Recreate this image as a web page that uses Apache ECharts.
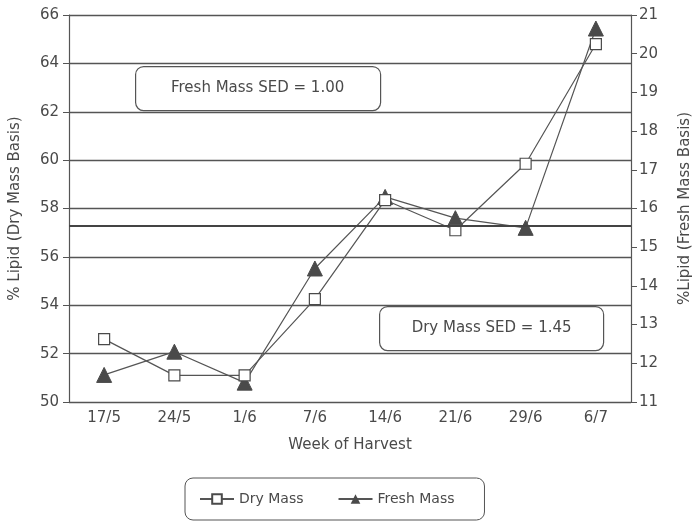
<!DOCTYPE html>
<html>
<head>
<meta charset="utf-8">
<script src="https://cdn.jsdelivr.net/npm/echarts@6/dist/echarts.min.js"></script>
<style>
  html, body { margin: 0; padding: 0; background: #fff; }
  #chart { width: 697px; height: 522px; }
</style>
</head>
<body>
<div id="chart"></div>
<script>
// Harvest weeks and lipid content
const weeks = ['17/5', '24/5', '1/6', '7/6', '14/6', '21/6', '29/6', '6/7'];
// % lipid, dry mass basis (left axis)
const dryMass = [52.6, 51.1, 51.1, 54.25, 58.35, 57.1, 59.85, 64.8];
// % lipid, fresh mass basis (right axis)
const freshMass = [11.7, 12.3, 11.5, 14.45, 16.3, 15.75, 15.5, 20.65];
// Reference level drawn across the plot (dry mass basis)
const refLevel = [57.3];
const sedLabels = ['Fresh Mass SED = 1.00', 'Dry Mass SED = 1.45'];

const ink = '#4a4a4a';
const font = 'DejaVu Sans';

const chart = echarts.init(document.getElementById('chart'), null, { renderer: 'canvas' });

const axisText = { color: ink, fontFamily: font, fontSize: 15 };

chart.setOption({
  backgroundColor: '#fff',
  animation: false,
  textStyle: { fontFamily: font, color: ink },
  grid: { left: 69, right: 66, top: 15, bottom: 120, containLabel: false, outerBoundsMode: 'none' },
  legend: {
    data: ['Dry Mass', 'Fresh Mass'],
    left: 185, top: 478,
    padding: [14, 30, 14, 14],
    itemGap: 34,
    itemWidth: 34, itemHeight: 12,
    borderColor: '#555', borderWidth: 1, borderRadius: 8,
    textStyle: { color: ink, fontFamily: font, fontSize: 14 }
  },
  xAxis: {
    type: 'category',
    data: weeks,
    boundaryGap: true,
    name: 'Week of Harvest',
    nameLocation: 'middle',
    nameGap: 36,
    nameTextStyle: { color: ink, fontFamily: font, fontSize: 15 },
    axisLine: { lineStyle: { color: '#555', width: 1.2 } },
    axisTick: { alignWithLabel: true, length: 5, lineStyle: { color: '#555' } },
    axisLabel: Object.assign({ margin: 9 }, axisText),
    splitLine: { show: false }
  },
  yAxis: [
    {
      type: 'value',
      min: 50, max: 66, interval: 2,
      name: '% Lipid (Dry Mass Basis)',
      nameLocation: 'middle',
      nameGap: 46,
      nameRotate: 90,
      nameTextStyle: { color: ink, fontFamily: font, fontSize: 15 },
      axisLine: { show: true, lineStyle: { color: '#555', width: 1.2 } },
      axisTick: { show: true, length: 6, lineStyle: { color: '#555' } },
      axisLabel: Object.assign({ margin: 10 }, axisText),
      splitLine: { show: true, lineStyle: { color: '#555', width: 1.4 } }
    },
    {
      type: 'value',
      min: 11, max: 21, interval: 1,
      name: '%Lipid (Fresh Mass Basis)',
      nameLocation: 'middle',
      nameGap: 47,
      nameRotate: 90,
      nameTextStyle: { color: ink, fontFamily: font, fontSize: 15 },
      axisLine: { show: true, lineStyle: { color: '#555', width: 1.2 } },
      axisTick: { show: true, length: 6, lineStyle: { color: '#555' } },
      axisLabel: Object.assign({ margin: 8 }, axisText),
      splitLine: { show: false }
    }
  ],
  series: [
    {
      name: 'Fresh Mass',
      type: 'line',
      yAxisIndex: 1,
      data: freshMass,
      symbol: 'triangle',
      symbolSize: 15,
      itemStyle: { color: '#4a4a4a', borderColor: '#4a4a4a' },
      lineStyle: { color: '#555', width: 1.2 },
      z: 3
    },
    {
      name: 'Dry Mass',
      type: 'line',
      yAxisIndex: 0,
      data: dryMass,
      symbol: 'rect',
      symbolSize: 11,
      showAllSymbol: true,
      itemStyle: { color: '#fff', borderColor: '#4a4a4a', borderWidth: 1.2 },
      lineStyle: { color: '#555', width: 1.2 },
      markLine: {
        silent: true,
        symbol: 'none',
        label: { show: false },
        lineStyle: { color: '#444', width: 2, type: 'solid' },
        data: refLevel.map(v => ({ yAxis: v }))
      },
      z: 4
    }
  ],
  graphic: [
    {
      type: 'group', left: 135, top: 66,
      children: [
        { type: 'rect', shape: { x: 0, y: 0, width: 245, height: 44, r: 8 },
          style: { fill: '#fff', stroke: '#555', lineWidth: 1.2 } },
        { type: 'text', x: 122, y: 22,
          style: { text: sedLabels[0], align: 'center', verticalAlign: 'middle',
                   fill: ink, font: '15px "DejaVu Sans"' } }
      ]
    },
    {
      type: 'group', left: 379, top: 306,
      children: [
        { type: 'rect', shape: { x: 0, y: 0, width: 224, height: 44, r: 8 },
          style: { fill: '#fff', stroke: '#555', lineWidth: 1.2 } },
        { type: 'text', x: 112, y: 22,
          style: { text: sedLabels[1], align: 'center', verticalAlign: 'middle',
                   fill: ink, font: '15px "DejaVu Sans"' } }
      ]
    }
  ]
});
</script>
</body>
</html>
